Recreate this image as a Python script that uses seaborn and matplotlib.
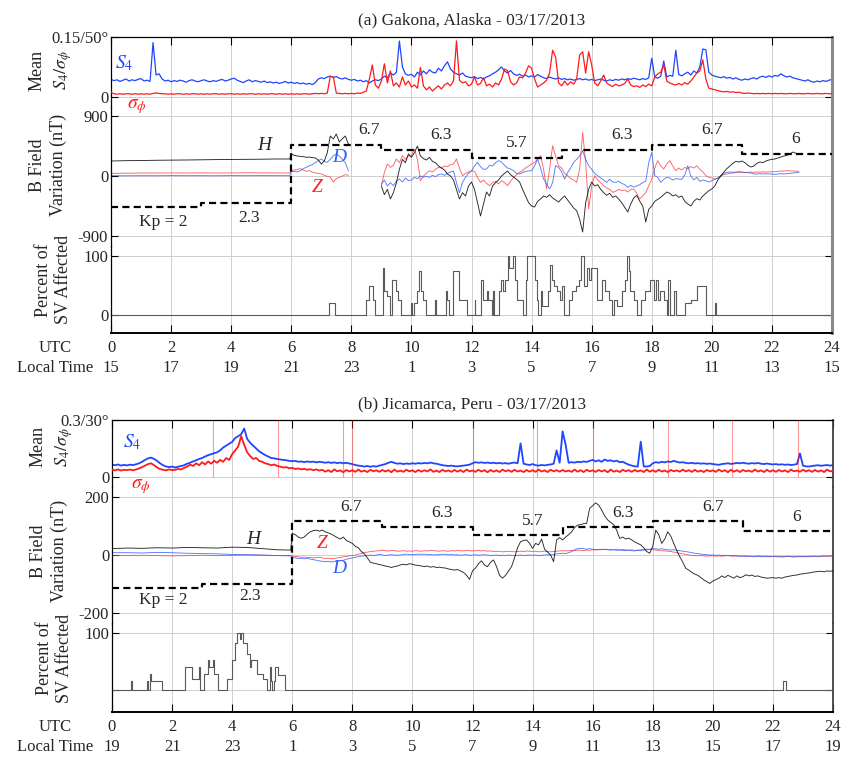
import numpy as np
import pandas as pd
import matplotlib
matplotlib.use("Agg")
import matplotlib.pyplot as plt
import seaborn as sns

# ---------------------------------------------------------------- time axis
UTC_TICKS = list(range(0, 25, 2))
LOCAL_GAKONA = [15, 17, 19, 21, 23, 1, 3, 5, 7, 9, 11, 13, 15]
LOCAL_JICAMARCA = [19, 21, 23, 1, 3, 5, 7, 9, 11, 13, 15, 17, 19]

# scintillation indices sampled every 0.1 h (UTC)
SCINT_HOURS = np.arange(0, 241) / 10.0

# planetary Kp index, 3-hour bins
KP_HOURS = [0, 3, 6, 9, 12, 15, 18, 21, 24]
KP_INDEX = [2, 2.3, 6.7, 6.3, 5.7, 6.3, 6.7, 6]

# ---------------------------------------------------------------- Gakona
S4_GAKONA = [
    0.044, 0.041, 0.043, 0.039, 0.042, 0.045, 0.040, 0.043, 0.041, 0.044,
    0.046, 0.040, 0.042, 0.039, 0.136, 0.055, 0.058, 0.045, 0.040, 0.042,
    0.038, 0.041, 0.039, 0.042, 0.040, 0.037, 0.041, 0.043, 0.040, 0.038,
    0.041, 0.043, 0.040, 0.038, 0.041, 0.039, 0.042, 0.044, 0.040, 0.042,
    0.045, 0.047, 0.042, 0.039, 0.036, 0.040, 0.043, 0.038, 0.041, 0.039,
    0.037, 0.040, 0.036, 0.038, 0.035, 0.037, 0.034, 0.036, 0.039, 0.035,
    0.037, 0.034, 0.036, 0.033, 0.035, 0.032, 0.034, 0.031, 0.036, 0.045,
    0.048, 0.046, 0.050, 0.052, 0.049, 0.051, 0.047, 0.045, 0.048, 0.044,
    0.042, 0.044, 0.040, 0.042, 0.038, 0.041, 0.035, 0.040, 0.043, 0.041,
    0.045, 0.052, 0.048, 0.060, 0.055, 0.062, 0.140, 0.075, 0.058, 0.054,
    0.057, 0.050, 0.062, 0.055, 0.065, 0.058, 0.068, 0.062, 0.060, 0.072,
    0.065, 0.078, 0.088, 0.070, 0.062, 0.058, 0.055, 0.060, 0.052, 0.050,
    0.048, 0.051, 0.046, 0.049, 0.045, 0.050, 0.053, 0.058, 0.062, 0.068,
    0.075, 0.065, 0.060, 0.066, 0.058, 0.054, 0.057, 0.052, 0.055, 0.050,
    0.053, 0.050, 0.056, 0.052, 0.048, 0.046, 0.050, 0.047, 0.045, 0.048,
    0.044, 0.046, 0.043, 0.045, 0.042, 0.044, 0.046, 0.043, 0.045, 0.042,
    0.044, 0.041, 0.043, 0.045, 0.042, 0.040, 0.043, 0.041, 0.044, 0.042,
    0.045, 0.043, 0.046, 0.044, 0.047, 0.045, 0.043, 0.046, 0.044, 0.048,
    0.097, 0.050, 0.047, 0.052, 0.090, 0.050, 0.054, 0.052, 0.117, 0.056,
    0.053, 0.058, 0.062, 0.055, 0.065, 0.060, 0.075, 0.120, 0.118, 0.062,
    0.055, 0.052, 0.050, 0.048, 0.051, 0.047, 0.049, 0.045, 0.048, 0.044,
    0.042, 0.045, 0.043, 0.046, 0.048, 0.045, 0.050, 0.052, 0.049, 0.053,
    0.050, 0.054, 0.052, 0.058, 0.053, 0.050, 0.052, 0.048, 0.046, 0.044,
    0.042, 0.040, 0.043, 0.039, 0.037, 0.040, 0.038, 0.041, 0.039, 0.042,
    0.044,
]
SIGPHI_GAKONA = [  # degrees
    4.0, 2.7, 2.3, 2.7, 2.3, 2.7, 2.7, 2.3, 2.7, 2.3,
    2.7, 2.3, 2.7, 2.3, 3.0, 3.3, 3.0, 2.7, 2.7, 2.3,
    2.7, 2.3, 2.7, 2.7, 2.3, 2.7, 2.3, 2.7, 2.7, 2.3,
    2.7, 2.3, 2.7, 2.3, 2.7, 2.7, 2.3, 2.7, 2.3, 2.7,
    2.7, 2.3, 2.7, 2.3, 2.7, 2.3, 2.7, 2.7, 2.3, 2.7,
    2.3, 2.7, 2.3, 2.7, 2.7, 2.3, 2.7, 2.3, 2.7, 2.3,
    2.7, 2.3, 2.7, 2.3, 2.7, 2.7, 2.3, 2.7, 3.0, 2.7,
    3.0, 2.7, 3.3, 17.3, 16.7, 3.3, 3.0, 2.7, 3.0, 2.7,
    3.0, 2.7, 3.3, 3.0, 4.0, 5.0, 15.0, 26.7, 10.0, 7.3,
    13.3, 27.7, 11.7, 21.7, 9.3, 11.7, 8.3, 16.7, 10.0, 13.3,
    8.3, 10.0, 7.3, 24.7, 9.3, 6.0, 8.3, 5.0, 7.3, 9.3,
    6.7, 10.0, 11.7, 9.3, 13.3, 46.7, 14.0, 11.7, 12.7, 9.3,
    10.7, 16.7, 10.0, 11.3, 16.0, 9.3, 10.7, 8.3, 11.7, 10.0,
    15.0, 23.3, 22.0, 12.7, 10.0, 11.7, 16.7, 16.0, 20.0, 26.0,
    24.0, 15.0, 8.3, 10.0, 11.7, 14.0, 20.0, 39.0, 33.3, 11.7,
    9.3, 13.3, 10.0, 12.7, 10.7, 15.0, 35.0, 37.7, 20.0, 37.7,
    26.7, 11.7, 9.3, 13.3, 18.3, 11.7, 10.0, 8.7, 10.7, 9.3,
    10.0, 11.3, 15.0, 10.0, 8.7, 9.3, 8.0, 10.0, 8.7, 10.7,
    9.3, 16.7, 19.3, 20.7, 26.7, 13.3, 11.7, 10.7, 10.0, 11.3,
    10.0, 12.0, 10.7, 13.3, 16.7, 20.0, 21.7, 31.0, 15.0, 7.3,
    6.7, 6.0, 5.3, 4.7, 4.3, 4.7, 4.0, 4.3, 3.7, 4.0,
    3.3, 3.0, 3.3, 3.0, 2.7, 3.0, 2.7, 3.0, 2.7, 3.0,
    2.7, 3.0, 2.7, 3.0, 2.7, 2.7, 3.0, 2.7, 2.7, 3.0,
    2.7, 2.7, 3.0, 2.7, 2.7, 3.0, 2.7, 2.7, 3.0, 2.7,
    2.7,
]

# magnetometer samples: half-hourly while quiet, 0.1 h once disturbed
B_HOURS_GAKONA = np.concatenate([
    np.arange(0, 12) / 2.0, [5.95], np.arange(60, 80) / 10.0, [8.45], np.arange(90, 230) / 10.0,
])
H_GAKONA = [
    225, 230, 232, 236, 238, 240, 243, 246, 248, 250, 252, 255, 255,
    330, 310, 300, 295, 290, 280, 285, 275, 270, 240,
    180, 225, 350, 600, 555, 630, 510, 560, 600, 480,
    np.nan,
    -150, -280, -200, -345, -250, -100, 100, 250, 200, 330,
    280, 350, 450, 300, 260, 240, 280, 220, 200, 150,
    120, 90, 30, 0, -60, -200, -345, -250, -300, -150,
    -90, -200, -400, -600, -420, -240, -300, -150, -100, -60,
    0, 40, 75, 20, -15, -50, -90, -200, -300, -400,
    -450, -465, -380, -345, -300, -320, -280, -330, -360, -390,
    -340, -300, -360, -420, -480, -520, -650, -840, -400, -200,
    -90, -150, -130, -200, -250, -290, -260, -320, -300, -345,
    -400, -470, -540, -420, -330, -290, -380, -450, -690, -500,
    -450, -380, -350, -320, -280, -240, -260, -300, -280, -320,
    -300, -380, -420, -450, -380, -340, -360, -300, -260, -220,
    -195, -150, -60, 0, 60, 110, 150, 190, 220, 210,
    225, 200, 160, 135, 150, 190, 210, 200, 225, 240,
    250, 255, 270, 285, 300, 310, 330, 360, 340, 320,
]
D_GAKONA = [
    5, 3, 5, 4, 6, 5, 5, 4, 6, 5, 6, 5, 5,
    65, 70, 60, 80, 110, 130, 155, 170, 200, 230,
    255, 220, 205, 250, 305, 330, 300, 250, 200, 80,
    np.nan,
    -120, -60, -150, -100, -145, -80, -45, -90, -30, -70,
    -60, -20, -40, 0, -15, -5, -20, 10, -10, 20,
    30, 10, 40, 60, 75, -100, -250, -95, -20, 40,
    75, 150, 205, 140, 100, 105, 160, 150, 200, 230,
    210, 160, 120, 105, 80, 40, 30, 50, 70, 75,
    80, 150, 255, 120, -45, -120, -195, -100, 155, 130,
    60, -45, 50, 120, 205, 250, 300, 380, 250, 155,
    100, 40, 5, -30, -60, -95, -50, -90, -95, -80,
    -110, -130, -170, -140, -165, -150, -130, -100, -80, 200,
    355, 5, -20, -95, -50, -20, -30, -60, -40, -45,
    -50, 20, 155, 0, -60, -20, -80, -60, -70, -90,
    -70, -50, -30, 10, 40, 55, 60, 55, 60, 65,
    60, 55, 50, 45, 30, 30, 35, 30, 35, 30,
    30, 25, 30, 35, 30, 35, 40, 45, 50, 55,
]
Z_GAKONA = [
    40, 42, 45, 44, 46, 45, 47, 45, 46, 48, 47, 46, 45,
    80, 90, 100, 110, 90, 70, 80, 60, 45, 40,
    30, 10, -5, -15, -90, -40, -20, 0, 20, 10,
    np.nan,
    -145, 50, 180, 130, 160, 255, 200, 305, 250, 300,
    305, 405, 250, -70, 0, 40, 80, 60, 100, 130,
    120, 150, 140, 170, 180, 255, 120, 5, 40, 60,
    80, 70, -20, -95, -60, -110, -145, -100, -80, -120,
    -70, -100, -145, -80, -20, 20, 55, 80, 120, 150,
    180, 205, 250, 305, 100, -195, 100, 455, 300, 155,
    120, 40, 5, -40, -60, -95, 100, 655, 200, -495,
    -150, 5, -60, -100, -145, -180, -200, -245, -230, -200,
    -220, -210, -240, -200, -195, -260, -345, -300, -250, -145,
    -50, 120, 230, 150, 105, 180, 230, 150, 80, 120,
    90, 130, 105, 140, 120, 155, 100, 60, 5, -20,
    -30, -45, -30, 0, 20, 30, 40, 45, 50, 55,
    55, 50, 55, 60, 55, 60, 58, 62, 60, 62,
    65, 65, 70, 72, 75, 80, 78, 75, 72, 70,
]

PCT_HOURS_GAKONA = [
    0.0, 7.25, 7.45, 8.50, 8.60, 8.72, 8.80, 9.05, 9.10, 9.20,
    9.28, 9.35, 9.48, 9.55, 9.65, 9.97, 10.02, 10.10, 10.20, 10.25,
    10.32, 10.40, 10.50, 10.78, 10.82, 11.16, 11.20, 11.26, 11.40, 11.57,
    11.85, 12.10, 12.13, 12.33, 12.37, 12.50, 12.55, 12.68, 12.72, 12.75,
    12.93, 12.98, 13.05, 13.12, 13.22, 13.26, 13.38, 13.45, 13.50, 13.73,
    13.80, 13.86, 14.12, 14.18, 14.23, 14.30, 14.35, 14.55, 14.62, 14.68,
    14.75, 14.85, 14.96, 15.00, 15.07, 15.23, 15.35, 15.48, 15.57, 15.65,
    15.73, 15.85, 15.92, 15.98, 16.18, 16.35, 16.45, 16.57, 16.68, 16.75,
    16.85, 17.01, 17.10, 17.18, 17.23, 17.29, 17.40, 17.51, 17.65, 17.79,
    17.95, 18.07, 18.15, 18.20, 18.29, 18.40, 18.51, 18.55, 18.60, 18.75,
    18.80, 19.12, 19.30, 19.51, 19.79, 20.10, 20.14, 24.0,
]
PCT_GAKONA = [
    0, 20, 0, 25, 50, 25, 0, 80, 40, 33,
    0, 60, 40, 25, 0, 20, 0, 20, 40, 75,
    40, 25, 0, 25, 0, 40, 25, 0, 75, 25,
    0, 25, 0, 60, 25, 40, 25, 0, 40, 0,
    40, 60, 40, 60, 100, 80, 100, 60, 25, 0,
    60, 100, 60, 25, 0, 40, 15, 40, 85, 60,
    50, 40, 25, 50, 0, 25, 40, 50, 60, 100,
    50, 80, 60, 80, 25, 60, 40, 25, 0, 25,
    15, 40, 60, 100, 75, 40, 25, 0, 25, 40,
    60, 25, 60, 25, 40, 25, 0, 60, 0, 40,
    0, 20, 25, 50, 0, 20, 0, 0,
]
KP_LABEL_HOURS_GAKONA = [1.75, 4.6, 8.6, 11.0, 13.5, 17.0, 20.0, 22.8]

# ---------------------------------------------------------------- Jicamarca
S4_JICAMARCA = [
    0.065, 0.062, 0.066, 0.060, 0.064, 0.061, 0.065, 0.063, 0.067, 0.072,
    0.080, 0.090, 0.098, 0.102, 0.095, 0.085, 0.072, 0.062, 0.055, 0.052,
    0.055, 0.050, 0.054, 0.058, 0.062, 0.070, 0.075, 0.082, 0.088, 0.095,
    0.100, 0.108, 0.115, 0.120, 0.125, 0.130, 0.140, 0.155, 0.165, 0.175,
    0.185, 0.205, 0.215, 0.225, 0.255, 0.200, 0.180, 0.165, 0.150, 0.135,
    0.125, 0.115, 0.108, 0.100, 0.098, 0.095, 0.092, 0.090, 0.088, 0.085,
    0.083, 0.085, 0.080, 0.082, 0.078, 0.082, 0.079, 0.081, 0.077, 0.080,
    0.078, 0.075, 0.078, 0.074, 0.077, 0.073, 0.076, 0.072, 0.075, 0.071,
    0.068, 0.063, 0.060, 0.058, 0.055, 0.058, 0.054, 0.057, 0.055, 0.060,
    0.064, 0.068, 0.075, 0.080, 0.074, 0.070, 0.072, 0.068, 0.071, 0.069,
    0.072, 0.070, 0.073, 0.071, 0.074, 0.072, 0.076, 0.072, 0.070, 0.066,
    0.062, 0.060, 0.058, 0.060, 0.057, 0.056, 0.058, 0.060, 0.062, 0.065,
    0.072, 0.078, 0.075, 0.077, 0.074, 0.076, 0.073, 0.075, 0.072, 0.074,
    0.071, 0.073, 0.070, 0.074, 0.076, 0.072, 0.177, 0.070, 0.066, 0.063,
    0.068, 0.062, 0.060, 0.063, 0.061, 0.064, 0.066, 0.070, 0.140, 0.075,
    0.240, 0.170, 0.075, 0.078, 0.076, 0.080, 0.078, 0.082, 0.079, 0.085,
    0.090, 0.082, 0.088, 0.080, 0.092, 0.085, 0.088, 0.082, 0.086, 0.078,
    0.080, 0.072, 0.065, 0.060, 0.056, 0.055, 0.186, 0.056, 0.055, 0.058,
    0.072, 0.078, 0.075, 0.080, 0.077, 0.082, 0.079, 0.085, 0.080, 0.076,
    0.078, 0.074, 0.072, 0.075, 0.071, 0.073, 0.070, 0.072, 0.069, 0.071,
    0.068, 0.066, 0.064, 0.068, 0.070, 0.072, 0.069, 0.071, 0.074, 0.072,
    0.075, 0.072, 0.070, 0.073, 0.071, 0.074, 0.070, 0.068, 0.071, 0.068,
    0.066, 0.068, 0.065, 0.067, 0.064, 0.066, 0.063, 0.065, 0.068, 0.124,
    0.060, 0.056, 0.055, 0.058, 0.060, 0.062, 0.059, 0.061, 0.063, 0.060,
    0.062,
]
SIGPHI_JICAMARCA = [  # degrees
    3.8, 3.5, 4.0, 3.4, 3.8, 3.6, 3.9, 3.5, 4.0, 4.5,
    5.2, 6.0, 6.8, 7.2, 6.2, 5.0, 4.2, 3.8, 3.5, 4.0,
    3.6, 3.8, 4.2, 4.0, 4.8, 5.5, 6.5, 5.8, 7.2, 6.2,
    7.8, 6.6, 8.2, 7.0, 8.5, 7.5, 9.0, 8.0, 10.0, 9.0,
    12.0, 14.0, 16.0, 21.5, 17.0, 13.0, 11.0, 9.5, 10.0, 8.5,
    8.0, 7.2, 6.8, 6.2, 6.6, 5.8, 5.5, 5.0, 5.2, 4.6,
    4.8, 4.2, 4.5, 4.0, 4.3, 3.8, 4.1, 3.6, 4.0, 3.4,
    3.8, 2.8, 3.6, 2.6, 4.0, 3.0, 3.5, 2.5, 3.7, 2.9,
    3.6, 2.7, 3.9, 2.8, 3.4, 2.6, 3.8, 3.0, 3.5, 2.7,
    3.7, 2.9, 3.6, 2.5, 3.9, 2.8, 3.4, 2.7, 3.8, 3.0,
    3.5, 2.6, 3.7, 2.8, 3.6, 2.9, 4.0, 2.7, 3.4, 2.6,
    3.8, 2.9, 3.5, 2.7, 3.7, 2.8, 3.6, 2.6, 3.9, 3.0,
    3.4, 2.7, 3.8, 2.9, 3.6, 2.5, 3.7, 2.8, 3.5, 2.6,
    3.9, 3.0, 3.6, 2.7, 3.8, 2.9, 3.4, 2.6, 3.7, 2.8,
    3.6, 2.7, 3.9, 2.9, 3.5, 2.6, 3.8, 3.0, 3.6, 2.8,
    3.7, 2.9, 3.4, 2.7, 3.9, 2.8, 3.6, 2.6, 3.8, 3.0,
    3.5, 2.7, 3.7, 2.9, 3.6, 2.5, 3.9, 2.8, 3.4, 2.6,
    3.8, 3.0, 3.6, 2.7, 3.7, 2.9, 3.5, 2.6, 3.9, 2.8,
    3.6, 2.7, 3.8, 2.9, 3.4, 2.6, 3.7, 3.0, 3.5, 2.8,
    3.9, 2.9, 3.6, 2.7, 3.8, 2.8, 3.4, 2.6, 3.7, 3.0,
    3.5, 2.7, 3.9, 2.9, 3.6, 2.5, 3.8, 2.8, 3.6, 2.6,
    3.7, 3.0, 3.4, 2.7, 3.9, 2.9, 3.5, 2.6, 3.8, 2.8,
    3.6, 2.7, 3.7, 2.9, 3.5, 2.6, 3.9, 3.0, 3.4, 2.8,
    3.8, 2.9, 3.6, 2.7, 3.7, 2.8, 3.5, 2.6, 3.9, 3.0,
    3.2,
]
# isolated phase cycle-slip spikes (hours UTC)
SIGPHI_SPIKES_JICAMARCA = [3.36, 5.53, 7.7, 8.0, 12.0, 14.15, 16.0, 18.5, 20.65, 22.85]

B_HOURS_JICAMARCA = np.concatenate([np.arange(0, 12) / 2.0, [5.95], np.arange(60, 241) / 10.0])
H_JICAMARCA = [
    22, 24, 23, 25, 24, 26, 25, 24, 27, 26, 22, 18, 17,
    75, 70, 62, 58, 62, 72, 80, 84, 86, 82,
    86, 80, 76, 72, 66, 60, 55, 62, 50, 45,
    40, 30, 25, 12, 4, -10, -25, -28, -30, -33,
    -35, -38, -40, -43, -40, -38, -34, -32, -34, -30,
    -32, -35, -36, -38, -40, -38, -42, -40, -43, -42,
    -44, -45, -48, -50, -52, -50, -55, -60, -70, -84,
    -55, -45, -30, -20, -35, -40, -25, -17, -40, -70,
    -80, -70, -55, -40, -10, 25, 46, 50, 52, 40,
    23, 40, 35, 55, 20, 10, 0, -23, 52, 60,
    52, 62, 70, 80, 95, 103, 105, 108, 109, 161,
    170, 180, 172, 155, 135, 121, 112, 105, 85, 57,
    62, 55, 58, 52, 45, 40, 35, 25, 12, 6,
    30, 86, 70, 40, 55, 80, 65, 40, 15, -6,
    -25, -46, -52, -60, -66, -70, -78, -86, -92, -98,
    -90, -85, -80, -72, -78, -70, -75, -80, -72, -78,
    -75, -68, -72, -69, -74, -72, -76, -78, -80, -79,
    -78, -80, -78, -80, -76, -74, -72, -70, -69, -66,
    -65, -63, -62, -60, -58, -57, -56, -58, -55, -56,
    -55,
]
D_JICAMARCA = [
    8, 8, 7, 9, 8, 6, 5, 4, 2, 1, 0, -2, -3,
    -8, -10, -12, -11, -13, -12, -14, -16, -18, -20,
    -22, -23, -22, -24, -23, -22, -20, -18, -15, -12,
    -10, -8, -6, -4, -3, -2, 0, -2, 0, 2,
    0, -2, 0, 1, 0, -1, 0, 2, 3, 2,
    1, 2, 3, 2, 3, 1, 2, 0, 2, 1,
    3, 2, 1, 2, 0, 1, -1, 0, 1, -1,
    0, 1, -1, 0, 1, 0, -2, -1, 0, -2,
    -1, -2, 0, -1, -2, -1, 0, -2, -1, 0,
    -1, 0, -2, -1, 0, 1, 0, 2, 4, 5,
    6, 5, 8, 12, 18, 22, 23, 22, 20, 22,
    20, 19, 18, 20, 19, 18, 17, 18, 16, 17,
    16, 15, 16, 15, 14, 16, 15, 17, 18, 20,
    22, 21, 20, 22, 19, 18, 17, 18, 16, 15,
    13, 12, 10, 8, 6, 5, 3, 2, 1, 0,
    0, -1, 0, -2, -1, -2, -3, -2, -3, -4,
    -4, -5, -4, -5, -6, -5, -6, -5, -6, -6,
    -5, -6, -6, -7, -6, -5, -6, -7, -6, -5,
    -6, -5, -6, -5, -4, -5, -4, -3, -4, -3,
    -3,
]
Z_JICAMARCA = [
    -2, -2, -1, -2, -3, -2, -1, -2, -1, 0, -1, -2, -2,
    -3, -5, -6, -8, -7, -9, -8, -10, -9, -8,
    -10, -12, -11, -13, -12, -10, -8, -6, -5, -3,
    -2, 0, 3, 5, 8, 10, 12, 13, 14, 15,
    16, 15, 14, 16, 15, 13, 14, 15, 13, 14,
    13, 15, 14, 13, 15, 14, 16, 15, 14, 13,
    15, 14, 13, 15, 14, 16, 15, 14, 16, 15,
    14, 15, 16, 14, 15, 13, 14, 12, 13, 12,
    11, 12, 13, 12, 11, 12, 13, 12, 14, 13,
    12, 13, 11, 12, 13, 12, 11, 12, 13, 14,
    15, 14, 15, 16, 15, 17, 16, 15, 17, 16,
    18, 17, 19, 18, 20, 19, 18, 19, 20, 18,
    19, 18, 17, 18, 16, 17, 18, 19, 20, 19,
    18, 17, 16, 15, 14, 13, 12, 10, 8, 6,
    4, 2, 0, -1, -2, -3, -2, -3, -4, -3,
    -3, -4, -3, -4, -3, -2, -3, -4, -3, -4,
    -4, -3, -4, -5, -4, -3, -4, -5, -4, -5,
    -5, -4, -5, -6, -5, -4, -5, -6, -5, -6,
    -5, -6, -5, -4, -5, -6, -5, -4, -5, -4,
    -4,
]

PCT_HOURS_JICAMARCA = [
    0.0, 0.62, 0.65, 1.15, 1.19, 1.28, 1.31, 1.65, 2.43, 2.65,
    2.90, 2.93, 3.07, 3.21, 3.24, 3.36, 3.39, 3.54, 3.82, 3.98,
    4.09, 4.17, 4.25, 4.28, 4.37, 4.48, 4.60, 4.64, 4.70, 4.81,
    5.04, 5.15, 5.25, 5.28, 5.32, 5.40, 5.43, 5.54, 5.76, 22.35,
    22.43, 24.0,
]
PCT_JICAMARCA = [
    0, 16, 0, 16, 0, 28, 16, 0, 40, 20,
    40, 0, 28, 52, 40, 52, 28, 0, 20, 52,
    82, 100, 90, 100, 82, 64, 40, 52, 52, 28,
    20, 0, 40, 16, 0, 16, 40, 26, 0, 16,
    0, 0,
]
KP_LABEL_HOURS_JICAMARCA = [1.7, 4.6, 7.95, 11.0, 14.0, 17.0, 20.0, 22.8]

# ---------------------------------------------------------------- styling
sns.set_style("white")
plt.rcParams["font.family"] = ["Liberation Serif", "DejaVu Serif"]
plt.rcParams["mathtext.fontset"] = "stix"
plt.rcParams["font.size"] = 12

W, H = 849, 759
fig = plt.figure(figsize=(W / 100, H / 100), dpi=100)
fig.patch.set_facecolor("white")

BLUE = "#1f45ff"
RED = "#ff1a1a"
GRID = "#cfcfcf"


def axes_px(left, right, top, bottom):
    return fig.add_axes([left / W, 1 - bottom / H, (right - left) / W, (bottom - top) / H])


def trace(ax, hours, values, color, lw, alpha=1.0, z=2, steps=False):
    frame = pd.DataFrame({"hour": np.asarray(hours, float), "value": np.asarray(values, float)})
    frame["run"] = frame["value"].isna().cumsum()
    frame = frame.dropna()
    extra = {"drawstyle": "steps-post"} if steps else {}
    sns.lineplot(data=frame, x="hour", y="value", units="run", estimator=None, sort=False,
                 color=color, linewidth=lw, alpha=alpha, zorder=z, legend=False, ax=ax, **extra)
    ax.set_xlabel("")
    ax.set_ylabel("")


def style_strip(ax, ylim, yticks, ylabels, top_edge, bottom_edge, right_color, right_lw):
    ax.set_facecolor("none")
    ax.set_xlim(0, 24)
    ax.set_ylim(*ylim)
    ax.set_xticks(UTC_TICKS)
    ax.set_yticks(yticks)
    ax.set_yticklabels(ylabels)
    ax.grid(True, color=GRID, linewidth=0.7)
    ax.set_axisbelow(True)
    ax.spines["top"].set_visible(top_edge)
    ax.spines["bottom"].set_visible(bottom_edge)
    ax.spines["top"].set_color("black")
    ax.spines["top"].set_linewidth(0.9)
    ax.spines["bottom"].set_color("black")
    ax.spines["bottom"].set_linewidth(1.4)
    ax.spines["left"].set_color("black")
    ax.spines["left"].set_linewidth(0.9)
    ax.spines["right"].set_color(right_color)
    ax.spines["right"].set_linewidth(right_lw)
    ax.tick_params(axis="y", direction="in", length=5, left=True, right=True, pad=2,
                   labelsize=12, color="black")
    ax.tick_params(axis="x", direction="in", length=6, top=top_edge, bottom=bottom_edge,
                   labelbottom=bottom_edge, labeltop=False, pad=5, labelsize=12, color="black")


def draw_station(box, rows, title, title_pad, s4, sigphi, top_lim, sig_lim, top_ticklabels,
                 b_hours, h_vals, d_vals, z_vals, b_lim, b_ticks, kp_lim, kp_label_hours,
                 kp_shift, pct_hours, pct_vals, pct_lim, pct_ticklabels, local_times,
                 right_color, right_lw, label_y, marks, scint_lw, spikes=None):
    left, right = box
    ax_top = axes_px(left, right, *rows[0])
    ax_b = axes_px(left, right, *rows[1])
    ax_p = axes_px(left, right, *rows[2])

    # --- mean S4 / sigma_phi
    trace(ax_top, SCINT_HOURS, s4, BLUE, scint_lw, z=2)
    ax_sig = ax_top.twinx()
    trace(ax_sig, SCINT_HOURS, sigphi, RED, scint_lw, z=3)
    if spikes is not None:
        ax_sig.vlines(spikes, 0, sig_lim[1], color=RED, linewidth=0.8, alpha=0.45, zorder=1)
    ax_sig.set_ylim(*sig_lim)
    ax_sig.axis("off")
    style_strip(ax_top, top_lim, [0, top_lim[1]], top_ticklabels, True, False, right_color, right_lw)
    ax_top.set_title(title, fontsize=12.5, pad=title_pad)
    ax_top.set_ylabel("Mean\n$S_4/\\sigma_\\phi$", fontsize=13, linespacing=1.45)
    ax_top.yaxis.set_label_coords(-0.052, label_y[0])

    # --- B field components
    trace(ax_b, b_hours, h_vals, "black", 0.65, alpha=0.85, z=3)
    trace(ax_b, b_hours, z_vals, "#ff3b3b", 0.65, alpha=0.8, z=2)
    trace(ax_b, b_hours, d_vals, "#2a5cff", 0.65, alpha=0.8, z=2)
    style_strip(ax_b, b_lim, [-b_ticks, 0, b_ticks], [f"-{b_ticks}", "0", f"{b_ticks}"],
                False, False, right_color, right_lw)
    ax_b.set_ylabel("B Field\nVariation (nT)", fontsize=13, linespacing=1.3)
    ax_b.yaxis.set_label_coords(-0.061, label_y[1])

    # --- Kp index on its own scale
    ax_kp = ax_b.twinx()
    trace(ax_kp, KP_HOURS, KP_INDEX + [KP_INDEX[-1]], "black", 1.6, z=4, steps=True)
    for line in ax_kp.get_lines():
        line.set_linestyle((0, (3.2, 1.9)))
    ax_kp.set_xlim(0, 24)
    ax_kp.set_ylim(*kp_lim)
    ax_kp.axis("off")
    for i, (hr, kp) in enumerate(zip(kp_label_hours, KP_INDEX)):
        txt = f"Kp = {kp:g}" if i == 0 else f"{kp:g}"
        dy = kp_shift[1] if i < 2 else kp_shift[0]
        ax_kp.text(hr, kp + dy, txt, ha="center", va="center", fontsize=12.5)

    # --- percent of satellites affected
    trace(ax_p, pct_hours, pct_vals, "#5a5a5a", 0.8, z=2, steps=True)
    style_strip(ax_p, pct_lim, [0, 100], pct_ticklabels, False, True, right_color, right_lw)
    ax_p.set_xticklabels([f"{u}\n{lt}" for u, lt in zip(UTC_TICKS, local_times)])
    for lbl in ax_p.get_xticklabels():
        lbl.set_linespacing(1.3)
    ax_p.set_ylabel("Percent of\nSV Affected", fontsize=13, linespacing=1.25)
    ax_p.yaxis.set_label_coords(-0.054, label_y[2])
    fig.text(55 / W, 1 - (rows[2][1] + 7) / H, "UTC\nLocal Time", ha="center", va="top",
             fontsize=12, linespacing=1.3)

    # --- in-plot annotations
    (s4_pos, sig_pos, h_pos, d_pos, z_pos) = marks
    ax_top.text(*s4_pos, "$S_4$", color=BLUE, fontsize=14, ha="center", va="center", clip_on=False)
    ax_top.text(*sig_pos, "$\\sigma_\\phi$", color=RED, fontsize=14, ha="center", va="center",
                clip_on=False, zorder=5)
    ax_b.text(*h_pos, "H", fontstyle="italic", fontsize=14, ha="center", va="center")
    ax_b.text(*d_pos, "D", fontstyle="italic", color="#2a5cff", fontsize=14, ha="center", va="center")
    ax_b.text(*z_pos, "Z", fontstyle="italic", color="#ff2020", fontsize=14, ha="center", va="center")


draw_station(
    box=(111, 832), rows=[(37, 107), (107, 246), (246, 333)],
    title="(a) Gakona, Alaska - 03/17/2013", title_pad=9,
    s4=S4_GAKONA, sigphi=SIGPHI_GAKONA, top_lim=(-0.025, 0.15), sig_lim=(-25 / 3, 50),
    top_ticklabels=["0", "0.15/50°"],
    b_hours=B_HOURS_GAKONA, h_vals=H_GAKONA, d_vals=D_GAKONA, z_vals=Z_GAKONA,
    b_lim=(-1050, 1035), b_ticks=900, kp_lim=(-0.95, 9.58),
    kp_label_hours=KP_LABEL_HOURS_GAKONA, kp_shift=(1.15, -1.15),
    pct_hours=PCT_HOURS_GAKONA, pct_vals=PCT_GAKONA, pct_lim=(-30.5, 117),
    pct_ticklabels=["0", "100"], local_times=LOCAL_GAKONA,
    right_color="#8a8a8a", right_lw=2.2, label_y=(0.52, 0.58, 0.61),
    marks=((0.45, 0.085), (0.85, -0.025), (5.1, 465), (7.6, 270), (6.85, -180)),
    scint_lw=0.9,
)

draw_station(
    box=(112, 833), rows=[(420, 487), (487, 623), (623, 712)],
    title="(b) Jicamarca, Peru - 03/17/2013", title_pad=8,
    s4=S4_JICAMARCA, sigphi=SIGPHI_JICAMARCA, top_lim=(-0.0526, 0.3), sig_lim=(-5.26, 30),
    top_ticklabels=["0", "0.3/30°"],
    b_hours=B_HOURS_JICAMARCA, h_vals=H_JICAMARCA, d_vals=D_JICAMARCA, z_vals=Z_JICAMARCA,
    b_lim=(-234.5, 234.5), b_ticks=200, kp_lim=(-0.45, 9.1),
    kp_label_hours=KP_LABEL_HOURS_JICAMARCA, kp_shift=(1.0, -0.85),
    pct_hours=PCT_HOURS_JICAMARCA, pct_vals=PCT_JICAMARCA, pct_lim=(-38.6, 117.5),
    pct_ticklabels=["", "100"], local_times=LOCAL_JICAMARCA,
    right_color="#404040", right_lw=1.3, label_y=(0.6, 0.53, 0.6),
    marks=((0.67, 0.184), (0.95, -0.0526), (4.7, 52), (7.55, -48), (7.0, 38)),
    scint_lw=1.3, spikes=SIGPHI_SPIKES_JICAMARCA,
)

fig.savefig("out.png", dpi=100, facecolor="white")
